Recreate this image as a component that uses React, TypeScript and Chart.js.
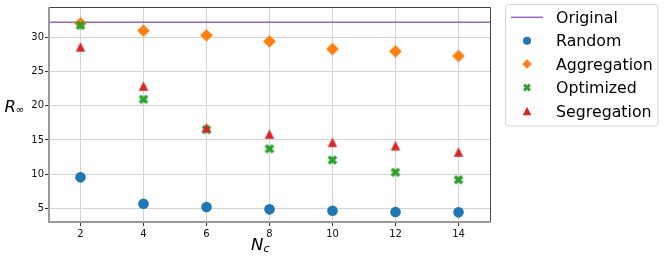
import React, { useEffect, useRef } from "react";
import { Chart, registerables } from "chart.js";

Chart.register(...registerables);

const NC = [2, 4, 6, 8, 10, 12, 14];
const ORIGINAL = 32.2;
const RANDOM = [9.53, 5.67, 5.19, 4.85, 4.65, 4.46, 4.41];
const AGGREGATION = [32.05, 30.97, 30.29, 29.41, 28.29, 27.95, 27.27];
const OPTIMIZED = [31.75, 20.93, 16.5, 13.7, 12.06, 10.26, 9.18];
const SEGREGATION = [28.6, 22.88, 16.8, 15.86, 14.65, 14.15, 13.23];
const X_TICKS = [2, 4, 6, 8, 10, 12, 14];
const Y_TICKS = [5, 10, 15, 20, 25, 30];
const X_MIN = 1;
const X_MAX = 15;
const Y_MIN = 3.0;
const Y_MAX = 34.43;
const LEGEND_LABELS = ["Original", "Random", "Aggregation", "Optimized", "Segregation"];

const COLORS = {
  original: "#9467bd",
  random: "#1f77b4",
  aggregation: "#ff7f0e",
  optimized: "#2ca02c",
  segregation: "#d62728",
};

const FONT = "DejaVu Sans";

type Kind = "circle" | "diamond" | "x" | "triangle" | "line";

function drawShape(ctx: CanvasRenderingContext2D, kind: Kind, cx: number, cy: number, size: number, color: string) {
  ctx.save();
  ctx.fillStyle = color;
  ctx.strokeStyle = color;
  const h = size / 2;
  if (kind === "circle") {
    ctx.beginPath();
    ctx.arc(cx, cy, h, 0, Math.PI * 2);
    ctx.fill();
  } else if (kind === "diamond") {
    ctx.beginPath();
    ctx.moveTo(cx, cy - h);
    ctx.lineTo(cx + h, cy);
    ctx.lineTo(cx, cy + h);
    ctx.lineTo(cx - h, cy);
    ctx.closePath();
    ctx.fill();
  } else if (kind === "x") {
    const a = h - size * 0.14;
    ctx.lineWidth = size * 0.36;
    ctx.lineCap = "butt";
    ctx.beginPath();
    ctx.moveTo(cx - a, cy - a);
    ctx.lineTo(cx + a, cy + a);
    ctx.moveTo(cx + a, cy - a);
    ctx.lineTo(cx - a, cy + a);
    ctx.stroke();
  } else if (kind === "triangle") {
    ctx.beginPath();
    ctx.moveTo(cx, cy - h);
    ctx.lineTo(cx + h, cy + h);
    ctx.lineTo(cx - h, cy + h);
    ctx.closePath();
    ctx.fill();
  } else if (kind === "line") {
    ctx.lineWidth = 1.5;
    ctx.beginPath();
    ctx.moveTo(cx - 16, cy);
    ctx.lineTo(cx + 16, cy);
    ctx.stroke();
  }
  ctx.restore();
}

function markerCanvas(kind: Kind, size: number, color: string): HTMLCanvasElement {
  const c = document.createElement("canvas");
  const s = Math.ceil(size) + 2;
  c.width = s;
  c.height = s;
  const ctx = c.getContext("2d")!;
  drawShape(ctx, kind, s / 2, s / 2, size, color);
  return c;
}

const framePlugin = {
  id: "frame",
  afterDatasetsDraw(chart: any) {
    const { ctx, chartArea: a } = chart;
    ctx.save();
    ctx.strokeStyle = "#444";
    ctx.lineWidth = 1;
    ctx.beginPath();
    ctx.moveTo(a.left, a.top + 0.5);
    ctx.lineTo(a.right + 0.5, a.top + 0.5);
    ctx.lineTo(a.right + 0.5, a.bottom);
    ctx.stroke();
    ctx.strokeStyle = "#9a9a9a";
    ctx.lineWidth = 2;
    ctx.beginPath();
    ctx.moveTo(a.left, a.top);
    ctx.lineTo(a.left, a.bottom);
    ctx.lineTo(a.right + 1, a.bottom);
    ctx.stroke();
    ctx.restore();
  },
};

const titlesPlugin = {
  id: "titles",
  afterDraw(chart: any) {
    const ctx = chart.ctx as CanvasRenderingContext2D;
    ctx.save();
    ctx.fillStyle = "#000";
    ctx.textBaseline = "alphabetic";
    ctx.textAlign = "left";
    ctx.font = `italic 16.5px "${FONT}"`;
    ctx.fillText("R", 4.5, 111.5);
    ctx.font = `10.5px "${FONT}"`;
    ctx.fillText("\u221E", 15.5, 113);
    ctx.font = `italic 16.5px "${FONT}"`;
    ctx.fillText("N", 251, 250);
    ctx.font = `italic 11px "${FONT}"`;
    ctx.fillText("c", 263.5, 251.5);
    ctx.restore();
  },
};

const LEGEND_KINDS: Kind[] = ["line", "circle", "diamond", "x", "triangle"];
const LEGEND_COLORS = [COLORS.original, COLORS.random, COLORS.aggregation, COLORS.optimized, COLORS.segregation];
const LEGEND_SIZES = [0, 8, 9.5, 8, 8.5];

const legendPlugin = {
  id: "customLegend",
  afterDraw(chart: any) {
    const ctx = chart.ctx as CanvasRenderingContext2D;
    ctx.save();
    const x0 = 505.5, y0 = 4.5, w = 152.5, h = 121.5, r = 3;
    ctx.beginPath();
    ctx.moveTo(x0 + r, y0);
    ctx.lineTo(x0 + w - r, y0);
    ctx.arcTo(x0 + w, y0, x0 + w, y0 + r, r);
    ctx.lineTo(x0 + w, y0 + h - r);
    ctx.arcTo(x0 + w, y0 + h, x0 + w - r, y0 + h, r);
    ctx.lineTo(x0 + r, y0 + h);
    ctx.arcTo(x0, y0 + h, x0, y0 + h - r, r);
    ctx.lineTo(x0, y0 + r);
    ctx.arcTo(x0, y0, x0 + r, y0, r);
    ctx.closePath();
    ctx.fillStyle = "rgba(255,255,255,0.8)";
    ctx.fill();
    ctx.strokeStyle = "#d6d6d6";
    ctx.lineWidth = 1;
    ctx.stroke();
    ctx.font = `15.8px "${FONT}"`;
    ctx.fillStyle = "#000";
    ctx.textAlign = "left";
    ctx.textBaseline = "alphabetic";
    LEGEND_LABELS.forEach((label, i) => {
      const cy = 17.3 + i * 23.4;
      drawShape(ctx, LEGEND_KINDS[i], 527, cy, LEGEND_SIZES[i], LEGEND_COLORS[i]);
      ctx.fillStyle = "#000";
      ctx.fillText(label, 556, cy + 5.6);
    });
    ctx.restore();
  },
};

export default function App() {
  const ref = useRef<HTMLCanvasElement>(null);
  useEffect(() => {
    if (!ref.current) return;
    const pts = (vals: number[]) => NC.map((x, i) => ({ x, y: vals[i] }));
    const diamond = markerCanvas("diamond", 12.7, COLORS.aggregation);
    const cross = markerCanvas("x", 10, COLORS.optimized);
    const tri = markerCanvas("triangle", 9.5, COLORS.segregation);
    const tickFont = { family: FONT, size: 10 };
    const chart = new Chart(ref.current, {
      type: "scatter",
      data: {
        datasets: [
          {
            label: LEGEND_LABELS[0],
            type: "line",
            data: [
              { x: X_MIN, y: ORIGINAL },
              { x: X_MAX, y: ORIGINAL },
            ],
            borderColor: COLORS.original,
            borderWidth: 1.5,
            pointRadius: 0,
            order: 5,
          } as any,
          {
            label: LEGEND_LABELS[1],
            data: pts(RANDOM),
            pointStyle: "circle",
            pointRadius: 5.3,
            backgroundColor: COLORS.random,
            borderWidth: 0,
            order: 4,
          },
          {
            label: LEGEND_LABELS[2],
            data: pts(AGGREGATION),
            pointStyle: diamond as any,
            order: 3,
          },
          {
            label: LEGEND_LABELS[3],
            data: pts(OPTIMIZED),
            pointStyle: cross as any,
            order: 2,
          },
          {
            label: LEGEND_LABELS[4],
            data: pts(SEGREGATION),
            pointStyle: tri as any,
            order: 1,
          },
        ],
      },
      options: {
        responsive: false,
        animation: false,
        events: [],
        layout: { padding: { top: 7, right: 174, left: 0, bottom: 0 } },
        plugins: { legend: { display: false }, tooltip: { enabled: false } },
        scales: {
          x: {
            type: "linear",
            min: X_MIN,
            max: X_MAX,
            afterFit: (s: any) => {
              s.height = 38;
            },
            afterBuildTicks: (s: any) => {
              s.ticks = X_TICKS.map((v) => ({ value: v }));
            },
            grid: { color: "#d3d3d3", lineWidth: 1, tickColor: "#333", tickLength: 4 },
            border: { display: false },
            ticks: { font: tickFont, color: "#111", padding: 2, maxRotation: 0 },
          },
          y: {
            type: "linear",
            min: Y_MIN,
            max: Y_MAX,
            afterFit: (s: any) => {
              s.width = 49;
            },
            afterBuildTicks: (s: any) => {
              s.ticks = Y_TICKS.map((v) => ({ value: v }));
            },
            grid: { color: "#d3d3d3", lineWidth: 1, tickColor: "#333", tickLength: 4 },
            border: { display: false },
            ticks: { font: tickFont, color: "#111", padding: 1 },
          },
        },
      },
      plugins: [framePlugin, titlesPlugin, legendPlugin],
    });
    return () => chart.destroy();
  }, []);
  return (
    <div style={{ position: "absolute", left: 0, top: 0, width: 664, height: 260, background: "#fff" }}>
      <canvas ref={ref} width={664} height={260} style={{ display: "block" }} />
    </div>
  );
}
